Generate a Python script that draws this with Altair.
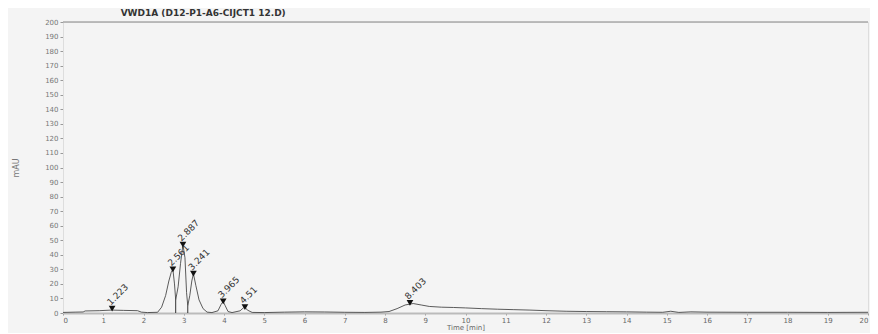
import altair as alt
import pandas as pd

# chromatogram trace (time in min, signal in mAU)
times = [0.0, 0.3, 0.5, 0.55, 0.9, 1.2, 1.5, 1.85, 1.95, 2.1, 2.35, 2.45, 2.55, 2.63, 2.69, 2.73, 2.77, 2.8,
         2.86, 2.92, 2.98, 3.03, 3.07, 3.1, 3.15, 3.2, 3.24, 3.3, 3.38, 3.48, 3.58, 3.7, 3.85, 3.93, 3.98,
         4.03, 4.1, 4.2, 4.4, 4.48, 4.52, 4.58, 4.7, 5.0, 5.5, 6.0, 6.5, 7.0, 7.5, 7.9, 8.1, 8.3, 8.5, 8.7,
         8.9, 9.1, 9.4, 9.7, 10.0, 10.4, 10.8, 11.2, 11.6, 12.0, 12.5, 13.0, 13.5, 14.0, 14.5, 14.9, 15.1,
         15.3, 15.6, 16.0, 17.0, 18.0, 19.0, 20.0]
signal = [0.4, 0.6, 0.7, 1.4, 1.6, 2.0, 1.8, 1.6, 0.6, 0.3, 0.5, 4.0, 12.0, 22.0, 28.0, 30.0, 20.0, 9.0,
          18.0, 34.0, 47.0, 38.0, 14.0, 5.0, 12.0, 22.0, 27.0, 19.0, 9.0, 3.0, 0.6, 0.3, 1.5, 6.0, 8.0,
          5.0, 1.0, 0.3, 1.5, 3.5, 4.0, 2.0, 0.4, 0.3, 0.6, 0.8, 0.7, 0.5, 0.4, 0.6, 1.0, 3.0, 5.5, 6.5,
          5.5, 4.5, 4.0, 3.8, 3.5, 3.0, 2.6, 2.3, 2.0, 1.6, 1.2, 1.0, 0.9, 0.8, 0.6, 0.5, 1.2,
          0.4, 0.8, 0.6, 0.5, 0.5, 0.4, 0.5]

# integrated peaks: apex time, apex height and label text
peak_times = [1.22, 2.73, 2.98, 3.24, 3.98, 4.52, 8.62]
peak_heights = [3.0, 30.0, 47.0, 27.0, 8.0, 4.0, 7.0]
peak_labels = ["1.223", "2.561", "2.887", "3.241", "3.965", "4.51", "8.403"]

# drop lines between fused peaks
drop_times = [2.8, 3.1]
drop_heights = [9.0, 5.0]

y_ticks = list(range(0, 201, 10))
x_ticks = list(range(0, 21))

trace = pd.DataFrame({"t": times, "s": signal})
peaks = pd.DataFrame({"t": peak_times, "s": peak_heights, "label": peak_labels})
drops = pd.DataFrame({"t": drop_times, "s": drop_heights, "z": [0.0] * len(drop_times)})
top = pd.DataFrame({"t": [0.0], "t2": [20.0], "s": [200.0]})

xscale = alt.Scale(domain=[0, 20], nice=False, zero=False)
yscale = alt.Scale(domain=[0, 200], nice=False)

x_axis = alt.Axis(values=x_ticks, title="Time [min]", grid=False, labelFontSize=7, titleFontSize=7,
                  labelColor="#666666", titleColor="#666666", domainColor="#bbbbbb", tickColor="#999999",
                  tickSize=2, labelPadding=1, titlePadding=0, domainWidth=2, labelOverlap=False,
                  titleFontWeight="normal")
y_axis = alt.Axis(values=y_ticks, title="mAU", grid=False, labelFontSize=7, titleFontSize=8,
                  labelColor="#777777", titleColor="#777777", domainColor="#dddddd", tickColor="#999999",
                  tickSize=3, labelPadding=2, titlePadding=24, labelOverlap=False,
                  titleFontWeight="normal")

base_line = alt.Chart(trace).mark_line(color="#333333", strokeWidth=0.8).encode(
    x=alt.X("t:Q", scale=xscale, axis=x_axis),
    y=alt.Y("s:Q", scale=yscale, axis=y_axis),
)

drop_rules = alt.Chart(drops).mark_rule(color="#333333", strokeWidth=1).encode(
    x=alt.X("t:Q", axis=x_axis), y=alt.Y("s:Q", axis=y_axis), y2="z:Q"
)

top_rule = alt.Chart(top).mark_rule(color="#aaaaaa", strokeWidth=1.5).encode(
    x=alt.X("t:Q", axis=x_axis), x2="t2:Q", y=alt.Y("s:Q", axis=y_axis)
)

markers = alt.Chart(peaks).mark_point(shape="triangle-down", filled=True, color="#111111", size=45,
                                      opacity=1).encode(x=alt.X("t:Q", axis=x_axis),
                                                        y=alt.Y("s:Q", axis=y_axis))

labels = alt.Chart(peaks).mark_text(angle=315, align="left", baseline="middle", dx=1, dy=-6,
                                    fontSize=9, color="#333333", font="DejaVu Sans").encode(
    x=alt.X("t:Q", axis=x_axis), y=alt.Y("s:Q", axis=y_axis), text="label:N"
)

chart = alt.layer(base_line, top_rule, drop_rules, markers, labels).properties(
    width=805,
    height=291,
    background="#f4f4f4",
    padding={"left": 55, "top": 14, "right": 2, "bottom": 20},
    autosize=alt.AutoSizeParams(type="none"),
    title=alt.TitleParams("VWD1A (D12-P1-A6-CIJCT1 12.D)", anchor="start", fontSize=9,
                          fontWeight="bold", color="#333333", offset=0, dx=108, font="DejaVu Sans"),
).configure_view(strokeWidth=0).configure(font="DejaVu Sans")

chart.save("out.html", embed_options={"renderer": "svg", "actions": False})
